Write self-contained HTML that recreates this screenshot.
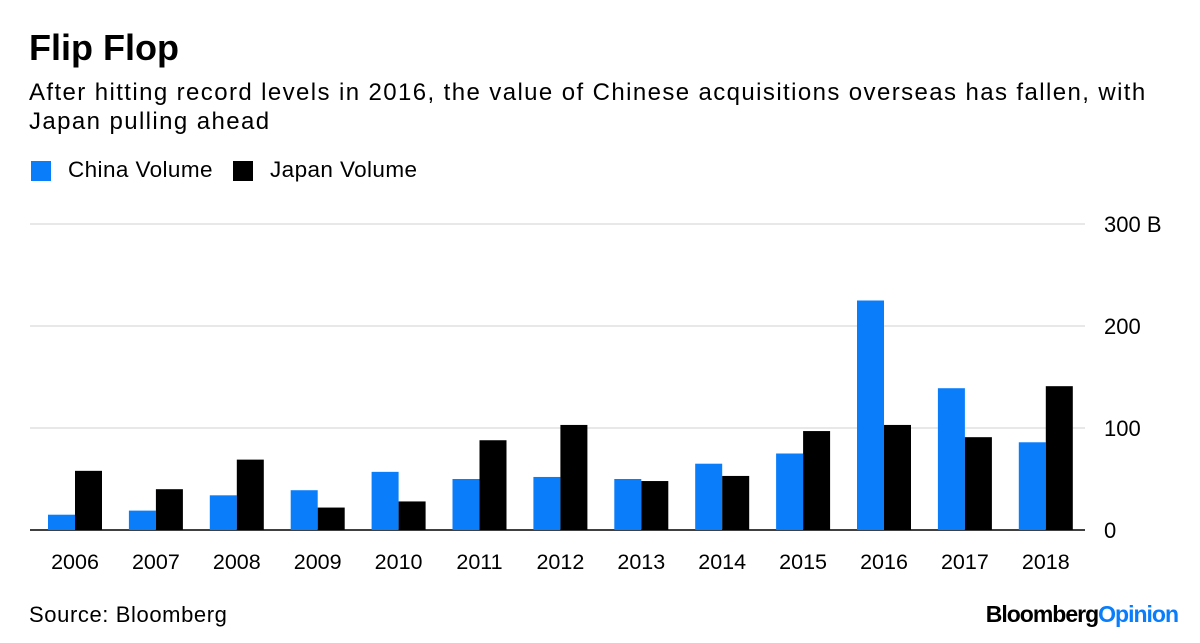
<!DOCTYPE html>
<html><head><meta charset="utf-8"><style>
body{margin:0;width:1200px;height:643px;background:#fff;font-family:"Liberation Sans",sans-serif;overflow:hidden;position:relative}
.t{position:absolute;white-space:nowrap}
</style></head><body>
<div class="t" style="left:29px;top:27px;font-size:36px;font-weight:bold;color:#000">Flip Flop</div>
<div class="t" style="left:29px;top:78px;font-size:24px;line-height:29px;color:#000;letter-spacing:1.4px">After hitting record levels in 2016, the value of Chinese acquisitions overseas has fallen, with<br>Japan pulling ahead</div>
<div>
<div class="t" style="left:31px;top:161px;width:20px;height:20px;background:#0a7dfa"></div>
<div class="t" style="left:68px;top:157px;font-size:22.5px;letter-spacing:0.4px">China Volume</div>
<div class="t" style="left:233px;top:161px;width:20px;height:20px;background:#000"></div>
<div class="t" style="left:270px;top:157px;font-size:22.5px;letter-spacing:0.4px">Japan Volume</div>
</div>
<svg id="chart" width="1200" height="643" style="position:absolute;left:0;top:0"></svg>
<div class="t" style="left:29px;top:602px;font-size:22px;letter-spacing:0.6px">Source: Bloomberg</div>
<div class="t" style="right:22px;top:601px;font-size:23px;font-weight:bold;letter-spacing:-1px">Bloomberg<span style="color:#0a7dfa">Opinion</span></div>
<script>
const years=["2006","2007","2008","2009","2010","2011","2012","2013","2014","2015","2016","2017","2018"];
const china=[15,19,34,39,57,50,52,50,65,75,225,139,86];
const japan=[58,40,69,22,28,88,103,48,53,97,103,91,141];
const ticks=[0,100,200,300];
const tickLabels=["0","100","200","300 B"];
const svg=document.getElementById('chart');const NS="http://www.w3.org/2000/svg";
const y=v=>530-v*1.02;
const cx=i=>75+i*80.9;
const bw=27;
function mk(t,a){const e=document.createElementNS(NS,t);for(const k in a)e.setAttribute(k,a[k]);svg.appendChild(e);return e;}
ticks.forEach((t,i)=>{
 const l=mk('line',{x1:30,x2:1085,y1:y(t),y2:y(t),stroke:t===0?'#000':'#e8e8e8','stroke-width':t===0?1.5:2});
 
 
 const tx=mk('text',{x:1104,y:y(t)+8,'font-size':22,'font-family':'Liberation Sans, sans-serif'});
 tx.textContent=tickLabels[i];
 
 
});
years.forEach((yr,i)=>{
 const c=mk('rect',{x:cx(i)-bw,y:y(china[i]),width:bw,height:530-y(china[i]),fill:'#0a7dfa'});
 
 
 const j=mk('rect',{x:cx(i),y:y(japan[i]),width:bw,height:530-y(japan[i]),fill:'#000'});
 
 
 const tx=mk('text',{x:cx(i),y:569,'font-size':21.5,'text-anchor':'middle','font-family':'Liberation Sans, sans-serif'});
 tx.textContent=yr;
 
 
});
</script>
</body></html>
